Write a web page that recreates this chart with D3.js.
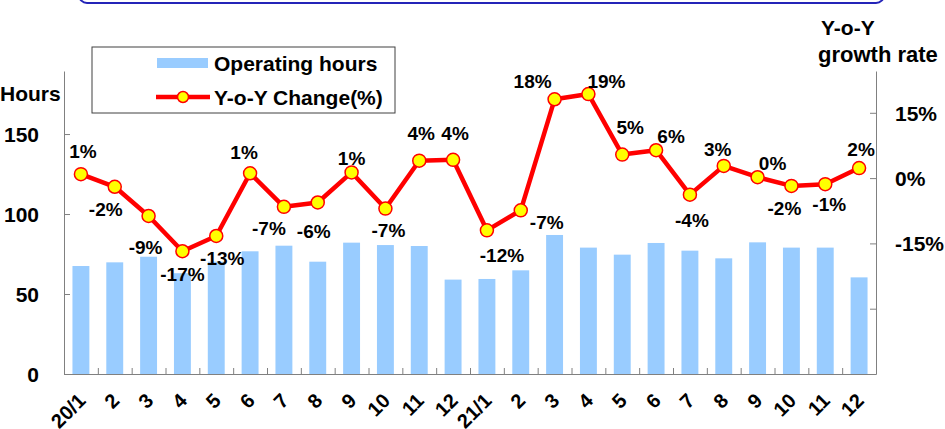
<!DOCTYPE html>
<html>
<head>
    <meta charset="utf-8">
    <title>Operating hours</title>
    <style>
        body { margin: 0; background: #fff; }
        svg text { font-family: Arial, 'Liberation Sans', sans-serif; font-weight: bold; fill: #000; }
        .axis path, .axis line { stroke: #808080; }
    </style>
</head>
<body>
<div class="chart-container"></div>
<script src="https://cdn.jsdelivr.net/npm/d3@7/dist/d3.min.js"></script>
<script>
    // months on the x axis
    var months = ['20/1', '2', '3', '4', '5', '6', '7', '8', '9', '10', '11', '12',
        '21/1', '2', '3', '4', '5', '6', '7', '8', '9', '10', '11', '12'];

    // operating hours (bars, left axis)
    var hours = [67.5, 69.8, 73.3, 63, 70.2, 76.7, 80.2, 70.2, 82.1, 80.6, 80, 59,
        59.4, 64.8, 86.9, 79, 74.6, 81.9, 77.1, 72.3, 82.3, 79, 79, 60.4];

    // y-o-y change in % (line, right axis)
    var yoy = [0.9, -2.0, -8.7, -16.8, -13.3, 1.1, -6.6, -5.6, 1.3, -7.0, 4.0, 4.2,
        -12.0, -7.4, 18.1, 19.3, 5.4, 6.4, -3.8, 2.8, 0.2, -1.8, -1.4, 2.3];

    var leftTicks = [0, 50, 100, 150];
    var rightTicks = [-45, -30, -15, 0, 15];
    var rightLabelled = [-15, 0, 15];

    // where each data label sits relative to its marker [dx, dy]
    var labelNudge = [[2, -23], [-9, 23], [-3, 31], [0, 23], [6, 22], [-6, -21],
        [-15, 22], [-4, 29], [0, -14], [3, 22], [2, -27], [2, -26],
        [15, 25], [26, 12], [-22, -18], [18, -13], [8, -27], [15, -14],
        [2, 26], [-6, -17], [15, -14], [-7, 22], [4, 20], [2, -19]];

    var barColor = '#99ccff';
    var lineColor = '#ff0000';
    var markerColor = '#ffff00';

    var width = 945, height = 429;
    var plot = {left: 64, right: 876, top: 71, bottom: 374};

    var svg = d3.select('.chart-container').append('svg')
            .attr('width', width)
            .attr('height', height);

    // title frame, cut off at the top of the picture
    svg.append('rect')
            .attr('x', 79)
            .attr('y', -40)
            .attr('width', 805)
            .attr('height', 43)
            .attr('rx', 8)
            .style('fill', 'none')
            .style('stroke', '#2424b8')
            .style('stroke-width', 2);

    var x = d3.scaleBand()
            .domain(d3.range(months.length))
            .range([plot.left, plot.right])
            .paddingInner(0.5)
            .paddingOuter(0.25);

    var xEdge = d3.scaleLinear()
            .domain([0, months.length])
            .range([plot.left, plot.right]);

    var yLeft = d3.scaleLinear()
            .domain([0, 189.4])
            .range([plot.bottom, plot.top]);

    var yRight = d3.scaleLinear()
            .domain([-45, 24.6])
            .range([plot.bottom, plot.top]);

    function cx(i) { return x(i) + x.bandwidth() / 2; }

    // bars
    svg.append('g')
            .attr('class', 'bars')
            .selectAll('rect')
            .data(hours)
            .enter()
            .append('rect')
            .attr('x', function (d, i) { return x(i); })
            .attr('y', function (d) { return yLeft(d); })
            .attr('width', x.bandwidth())
            .attr('height', function (d) { return yLeft(0) - yLeft(d); })
            .style('fill', barColor);

    // axes
    var gLeft = svg.append('g')
            .attr('class', 'axis')
            .attr('transform', 'translate(' + plot.left + ',0)')
            .call(d3.axisLeft(yLeft).tickValues(leftTicks).tickSizeInner(-6).tickSizeOuter(0).tickPadding(25));
    gLeft.selectAll('text').style('font-size', '21px').attr('dy', '0.36em');

    var gRight = svg.append('g')
            .attr('class', 'axis')
            .attr('transform', 'translate(' + plot.right + ',0)')
            .call(d3.axisRight(yRight)
                    .tickValues(rightTicks)
                    .tickSizeInner(-6)
                    .tickSizeOuter(0)
                    .tickPadding(19)
                    .tickFormat(function (d) { return rightLabelled.indexOf(d) >= 0 ? d + '%' : ''; }));
    gRight.selectAll('text').style('font-size', '21px').attr('dy', '0.36em');

    svg.append('g')
            .attr('class', 'axis')
            .attr('transform', 'translate(0,' + plot.bottom + ')')
            .call(d3.axisBottom(xEdge).ticks(months.length).tickSizeInner(-6).tickSizeOuter(0).tickFormat(''));

    var gMonths = svg.append('g')
            .attr('transform', 'translate(0,' + plot.bottom + ')')
            .call(d3.axisBottom(x).tickSize(0).tickFormat(function (i) { return months[i]; }));
    gMonths.select('.domain').remove();
    gMonths.selectAll('text')
            .attr('x', 0)
            .attr('y', 0)
            .attr('dy', '0.35em')
            .attr('transform', 'translate(1,23) rotate(-45)')
            .style('text-anchor', 'end')
            .style('font-size', '20px');

    // axis titles
    svg.append('text')
            .attr('x', 0)
            .attr('y', 101)
            .style('font-size', '21px')
            .text('Hours');

    svg.append('text')
            .attr('x', 821)
            .attr('y', 35)
            .style('font-size', '21px')
            .text('Y-o-Y');

    svg.append('text')
            .attr('x', 818)
            .attr('y', 62)
            .style('font-size', '22px')
            .text('growth rate');

    // yoy line
    var line = d3.line()
            .x(function (d, i) { return cx(i); })
            .y(function (d) { return yRight(d); });

    svg.append('path')
            .datum(yoy)
            .attr('d', line)
            .style('fill', 'none')
            .style('stroke', lineColor)
            .style('stroke-width', 4.5)
            .style('stroke-linejoin', 'round');

    svg.append('g')
            .selectAll('circle')
            .data(yoy)
            .enter()
            .append('circle')
            .attr('cx', function (d, i) { return cx(i); })
            .attr('cy', function (d) { return yRight(d); })
            .attr('r', 6.5)
            .style('fill', markerColor)
            .style('stroke', lineColor)
            .style('stroke-width', 1.5);

    svg.append('g')
            .selectAll('text')
            .data(yoy)
            .enter()
            .append('text')
            .attr('x', function (d, i) { return cx(i) + labelNudge[i][0]; })
            .attr('y', function (d, i) { return yRight(d) + labelNudge[i][1]; })
            .attr('dy', '0.35em')
            .style('text-anchor', 'middle')
            .style('font-size', '19px')
            .text(function (d) { return Math.round(d) + '%'; });

    // legend
    var legend = svg.append('g')
            .attr('transform', 'translate(92,47)');

    legend.append('rect')
            .attr('width', 303)
            .attr('height', 66)
            .style('fill', '#fff')
            .style('stroke', '#404040')
            .style('stroke-width', 1);

    legend.append('rect')
            .attr('x', 65)
            .attr('y', 11)
            .attr('width', 51)
            .attr('height', 10)
            .style('fill', barColor);

    legend.append('text')
            .attr('x', 122)
            .attr('y', 16)
            .attr('dy', '0.36em')
            .style('font-size', '21px')
            .text('Operating hours');

    legend.append('line')
            .attr('x1', 64)
            .attr('x2', 118)
            .attr('y1', 50)
            .attr('y2', 50)
            .style('stroke', lineColor)
            .style('stroke-width', 4.5);

    legend.append('circle')
            .attr('cx', 91)
            .attr('cy', 50)
            .attr('r', 5.5)
            .style('fill', markerColor)
            .style('stroke', lineColor)
            .style('stroke-width', 1.5);

    legend.append('text')
            .attr('x', 122)
            .attr('y', 50)
            .attr('dy', '0.36em')
            .style('font-size', '21px')
            .text('Y-o-Y Change(%)');
</script>
</body>
</html>
